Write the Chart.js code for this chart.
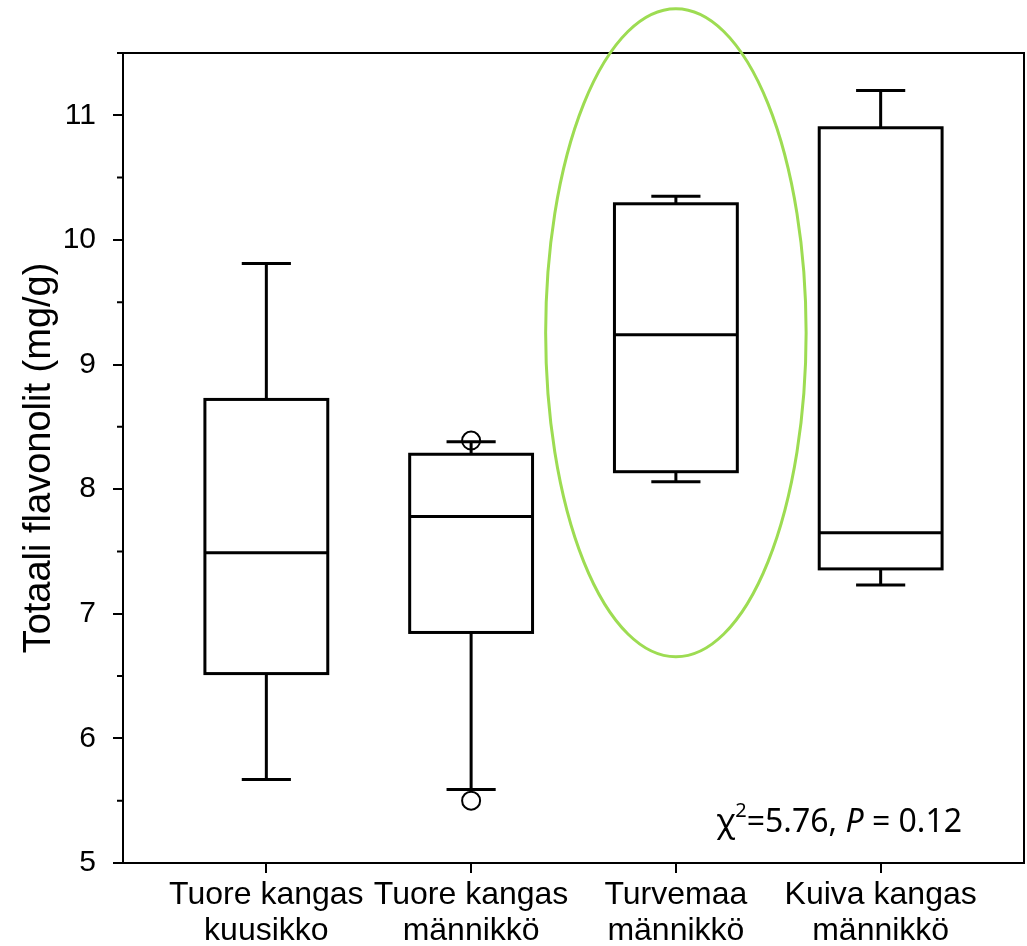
<!DOCTYPE html>
<html>
<head>
<meta charset="utf-8">
<script src="https://cdn.jsdelivr.net/npm/chart.js@4/dist/chart.umd.min.js"></script>
<style>
  html, body { margin: 0; padding: 0; background: #fff; }
  canvas { display: block; }
</style>
</head>
<body>
<canvas id="boxChart" width="1027" height="946"></canvas>
<script>
// 데이터
const CATEGORIES = [
    ['Tuore kangas', 'kuusikko'],
    ['Tuore kangas', 'männikkö'],
    ['Turvemaa', 'männikkö'],
    ['Kuiva kangas', 'männikkö']
];
const WHISKER_LOW = [5.67, 5.59, 8.06, 7.23];
const Q1 = [6.52, 6.85, 8.14, 7.36];
const MEDIAN = [7.49, 7.78, 9.24, 7.65];
const Q3 = [8.72, 8.28, 10.29, 10.90];
const WHISKER_HIGH = [9.81, 8.38, 10.35, 11.20];
const OUTLIER_X = [2, 2];
const OUTLIER_Y = [8.39, 5.50];
const Y_TICKS = [5, 6, 7, 8, 9, 10, 11];
const Y_MINOR = [5.5, 6.5, 7.5, 8.5, 9.5, 10.5, 11.5];
const Y_TITLE = 'Totaali flavonolit (mg/g)';

// 강조 타원 (데이터 좌표)
const ELLIPSE = { x: 3, y: 9.255, rx: 0.636, ry: 2.60 };

const BOX_WIDTH = 0.6;
const CAP_WIDTH = 0.24;

// 박스플롯 그리기
const boxPlugin = {
    id: 'boxPlugin',
    beforeDatasetsDraw(chart) {
        const { ctx, scales: { x, y } } = chart;
        ctx.save();
        ctx.strokeStyle = '#000';
        ctx.lineWidth = 3;
        ctx.lineCap = 'butt';
        CATEGORIES.forEach((c, i) => {
            const pos = i + 1;
            const xc = x.getPixelForValue(pos);
            const xl = x.getPixelForValue(pos - BOX_WIDTH / 2);
            const xr = x.getPixelForValue(pos + BOX_WIDTH / 2);
            const cl = x.getPixelForValue(pos - CAP_WIDTH / 2);
            const cr = x.getPixelForValue(pos + CAP_WIDTH / 2);
            const yq1 = y.getPixelForValue(Q1[i]);
            const yq3 = y.getPixelForValue(Q3[i]);
            const ym = y.getPixelForValue(MEDIAN[i]);
            const ylo = y.getPixelForValue(WHISKER_LOW[i]);
            const yhi = y.getPixelForValue(WHISKER_HIGH[i]);

            ctx.beginPath();
            // 수염
            ctx.moveTo(xc, yq3); ctx.lineTo(xc, yhi);
            ctx.moveTo(cl, yhi); ctx.lineTo(cr, yhi);
            ctx.moveTo(xc, yq1); ctx.lineTo(xc, ylo);
            ctx.moveTo(cl, ylo); ctx.lineTo(cr, ylo);
            // 중앙값
            ctx.moveTo(xl, ym); ctx.lineTo(xr, ym);
            ctx.stroke();
            ctx.strokeRect(xl, yq3, xr - xl, yq1 - yq3);
        });
        ctx.restore();
    },
    afterDraw(chart) {
        const { ctx, chartArea, scales: { x, y } } = chart;
        ctx.save();
        // 위쪽, 오른쪽 테두리
        ctx.strokeStyle = '#000';
        ctx.lineWidth = 2;
        ctx.beginPath();
        ctx.moveTo(chartArea.left, chartArea.top);
        ctx.lineTo(chartArea.right, chartArea.top);
        ctx.lineTo(chartArea.right, chartArea.bottom);
        ctx.stroke();

        // 보조 눈금
        ctx.beginPath();
        Y_MINOR.forEach(v => {
            const py = y.getPixelForValue(v);
            ctx.moveTo(chartArea.left - 6, py);
            ctx.lineTo(chartArea.left, py);
        });
        ctx.stroke();

        // 타원
        const ex = x.getPixelForValue(ELLIPSE.x);
        const ey = y.getPixelForValue(ELLIPSE.y);
        const erx = x.getPixelForValue(ELLIPSE.x + ELLIPSE.rx) - ex;
        const ery = ey - y.getPixelForValue(ELLIPSE.y + ELLIPSE.ry);
        ctx.strokeStyle = '#9ddc52';
        ctx.lineWidth = 3;
        ctx.beginPath();
        ctx.ellipse(ex, ey, erx, ery, 0, 0, Math.PI * 2);
        ctx.stroke();

        // 통계 텍스트
        const base = '"Noto Sans", "Open Sans", sans-serif';
        const parts = [
            { t: '\u03C7', f: '32px ' + base, dy: 0 },
            { t: '2', f: '20px ' + base, dy: -15 },
            { t: '=5.76, ', f: '32px ' + base, dy: 0 },
            { t: 'P', f: 'italic 32px ' + base, dy: 0 },
            { t: ' = 0.12', f: '32px ' + base, dy: 0 }
        ];
        let total = 0;
        parts.forEach(p => { ctx.font = p.f; p.w = ctx.measureText(p.t).width; total += p.w; });
        let tx = chartArea.right - 62 - total;
        const ty = chartArea.bottom - 31;
        ctx.fillStyle = '#000';
        ctx.textBaseline = 'alphabetic';
        ctx.textAlign = 'left';
        parts.forEach(p => {
            ctx.font = p.f;
            ctx.fillText(p.t, tx, ty + p.dy);
            tx += p.w;
        });
        ctx.restore();
    }
};

const chart = new Chart(document.getElementById('boxChart'), {
    type: 'scatter',
    data: {
        datasets: [{
            data: OUTLIER_X.map((v, i) => ({ x: v, y: OUTLIER_Y[i] })),
            pointRadius: 9,
            pointHoverRadius: 9,
            pointBorderWidth: 2,
            borderColor: '#000',
            backgroundColor: 'rgba(0,0,0,0)'
        }]
    },
    options: {
        responsive: false,
        devicePixelRatio: 1,
        animation: false,
        layout: { autoPadding: false, padding: { top: 53, right: 3, left: 0, bottom: 0 } },
        plugins: {
            legend: { display: false },
            tooltip: { enabled: false }
        },
        scales: {
            x: {
                type: 'linear',
                min: 0.3,
                max: 4.7,
                afterBuildTicks: scale => {
                    scale.ticks = CATEGORIES.map((c, i) => ({ value: i + 1 }));
                },
                afterFit: scale => {
                    scale.height = 83;
                    scale.paddingLeft = 0;
                    scale.paddingRight = 0;
                },
                grid: {
                    display: true,
                    drawOnChartArea: false,
                    drawTicks: true,
                    tickLength: 10,
                    color: '#000',
                    lineWidth: 2
                },
                border: { display: true, color: '#000', width: 2 },
                ticks: {
                    callback: (v, i) => CATEGORIES[i],
                    color: '#000',
                    font: { family: '"Liberation Sans", Arial, sans-serif', size: 32, lineHeight: 1.1 },
                    padding: 5,
                    maxRotation: 0,
                    autoSkip: false
                }
            },
            y: {
                min: 5,
                max: 11.5,
                afterBuildTicks: scale => {
                    scale.ticks = Y_TICKS.map(v => ({ value: v }));
                },
                afterFit: scale => {
                    scale.width = 123;
                    scale.paddingTop = 0;
                    scale.paddingBottom = 0;
                },
                grid: {
                    display: true,
                    drawOnChartArea: false,
                    drawTicks: true,
                    tickLength: 10,
                    color: '#000',
                    lineWidth: 2
                },
                border: { display: true, color: '#000', width: 2 },
                ticks: {
                    color: '#000',
                    font: { family: '"Liberation Sans", Arial, sans-serif', size: 30 },
                    padding: 17
                },
                title: {
                    display: true,
                    text: Y_TITLE,
                    color: '#000',
                    font: { family: '"Liberation Sans", Arial, sans-serif', size: 38 },
                    padding: { top: 17, bottom: 0 }
                }
            }
        }
    },
    plugins: [boxPlugin]
});
</script>
</body>
</html>
